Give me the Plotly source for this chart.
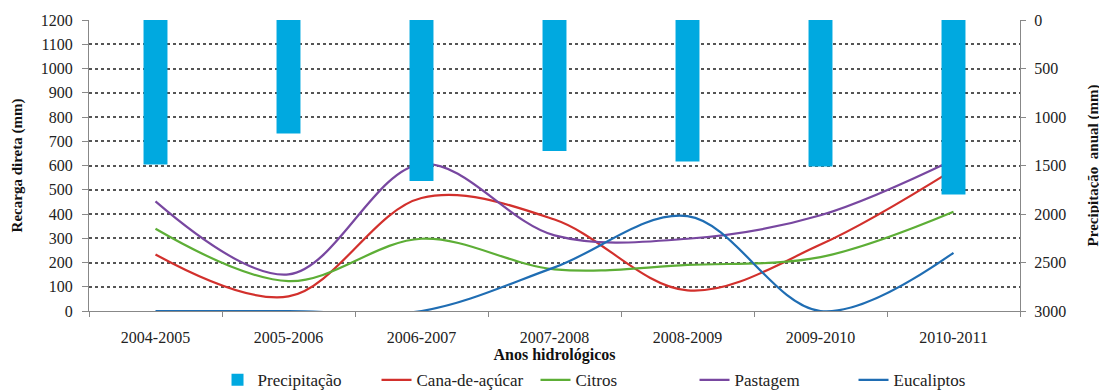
import plotly.graph_objects as go

anos = ["2004-2005", "2005-2006", "2006-2007", "2007-2008", "2008-2009", "2009-2010", "2010-2011"]
precipitacao = [1490, 1170, 1660, 1350, 1460, 1510, 1800]
cana = [233, 60, 466, 377, 85, 274, 583]
citros = [339, 123, 298, 172, 190, 222, 409]
pastagem = [452, 151, 606, 312, 298, 395, 624]
eucaliptos = [0, 0, 0, 180, 391, 0, 240]

FONT = "Liberation Serif, Times New Roman, DejaVu Serif, serif"
fig = go.Figure()
fig.add_trace(go.Bar(x=anos, y=precipitacao, name="Precipitação", yaxis="y2",
                     marker=dict(color="#00A9E0", line=dict(width=0)), width=0.18))
line_series = [("Cana-de-açúcar", cana, "#D2302C"),
               ("Citros", citros, "#5DAE36"),
               ("Pastagem", pastagem, "#7847A0"),
               ("Eucaliptos", eucaliptos, "#1F6DB3")]
for name, vals, col in line_series:
    fig.add_trace(go.Scatter(x=anos, y=vals, name=name, mode="lines",
                             line=dict(color=col, width=2.2, shape="spline", smoothing=1.0)))

fig.update_layout(
    width=1099, height=383,
    margin=dict(l=81, r=87, t=12, b=80, autoexpand=False),
    paper_bgcolor="white", plot_bgcolor="white",
    font=dict(family=FONT, size=16, color="#222222"),
    barmode="overlay",
    showlegend=True,
    legend=dict(orientation="h", x=0.565, xanchor="center", y=-0.3, yanchor="bottom",
                font=dict(family=FONT, size=17, color="#222222"),
                itemwidth=30, tracegroupgap=0, traceorder="normal",
                entrywidth=114),
    xaxis=dict(type="category", range=[-0.5, 6.5], showline=True, linecolor="#888888",
               linewidth=1, ticks="outside", tickson="boundaries", ticklen=5,
               tickcolor="#888888", showgrid=False, automargin=False,
               ticklabelstandoff=12,
               tickfont=dict(family=FONT, size=16, color="#222222"),
               title=dict(text="<b>Anos hidrológicos</b>", standoff=0,
                          font=dict(family=FONT, size=16, color="#111111"))),
    yaxis=dict(range=[0, 1200], dtick=100, showline=True, linecolor="#888888",
               linewidth=1, ticks="outside", ticklen=6, tickcolor="#888888",
               ticklabelstandoff=6,
               showgrid=True, gridcolor="#555555", griddash="dot", gridwidth=1.5,
               zeroline=False, automargin=False,
               tickfont=dict(family=FONT, size=16, color="#222222"),
               title=dict(text="<b>Recarga direta (mm)</b>", standoff=14,
                          font=dict(family=FONT, size=15, color="#111111"))),
    yaxis2=dict(range=[3000, 0], dtick=500, overlaying="y", side="right",
                showline=True, linecolor="#888888", linewidth=1, ticks="outside",
                ticklen=5, tickcolor="#888888", showgrid=False, zeroline=False,
                automargin=False, ticklabelstandoff=5,
                tickfont=dict(family=FONT, size=16, color="#222222"),
                title=dict(text="<b>Precipitação  anual (mm)</b>", standoff=22,
                           font=dict(family=FONT, size=15, color="#111111"))),
)
fig.write_html("out.html")
